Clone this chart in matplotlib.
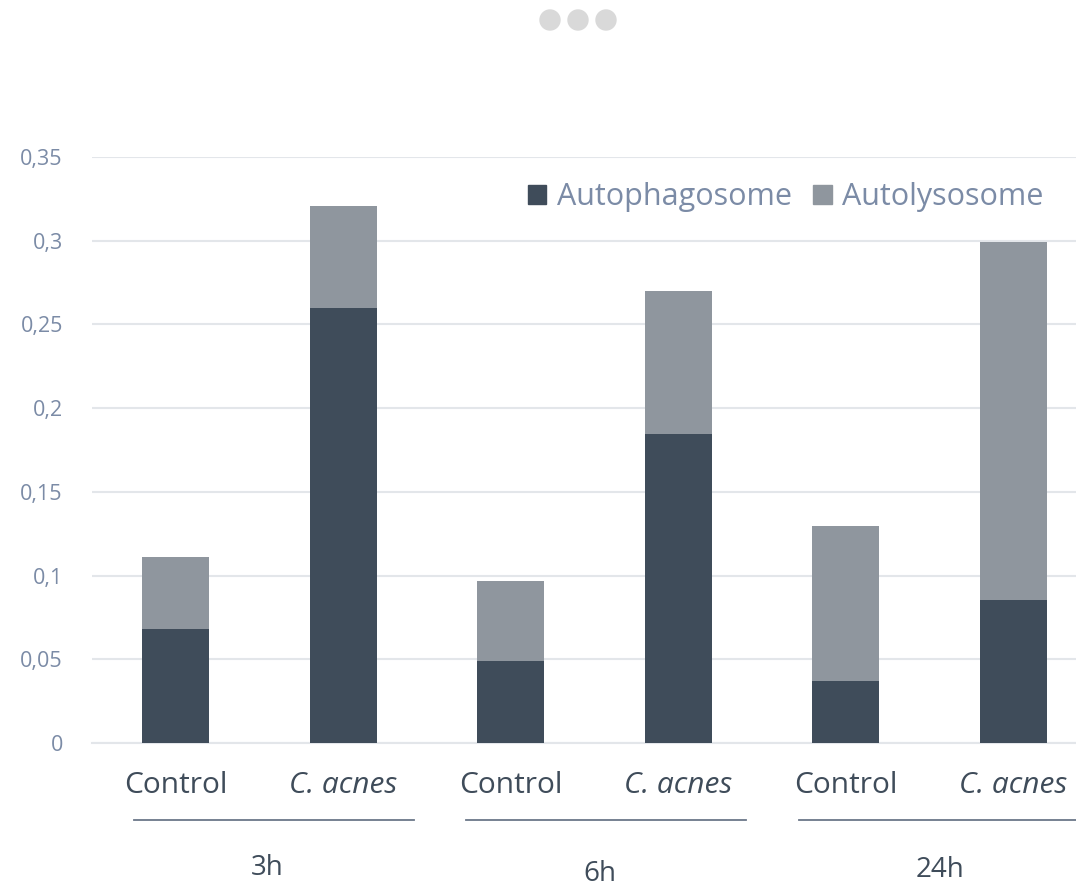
import matplotlib
matplotlib.use("Agg")
import matplotlib.pyplot as plt
from matplotlib.patches import Circle, Rectangle
from matplotlib.lines import Line2D
import matplotlib.transforms as mtransforms

plt.rcParams['font.family'] = ['Open Sans', 'DejaVu Sans']

# Data
categories = ["Control", "C. acnes", "Control", "C. acnes", "Control", "C. acnes"]
groups = ["3h", "6h", "24h"]
autophagosome = [0.068, 0.260, 0.049, 0.1845, 0.037, 0.0855]
autolysosome = [0.043, 0.061, 0.0475, 0.0855, 0.0925, 0.2135]
yticks = [0, 0.05, 0.1, 0.15, 0.2, 0.25, 0.3, 0.35]
ytick_labels = ["0", "0,05", "0,1", "0,15", "0,2", "0,25", "0,3", "0,35"]

DARK = "#3f4c5a"
GREY = "#8f969e"
TICK = "#7b8ba6"
GRID = "#e3e6ea"

W, H = 1076, 886
fig = plt.figure(figsize=(W / 100, H / 100), dpi=100)
ax = fig.add_axes([92 / W, (H - 743) / H, 1005 / W, 586 / H])

x = list(range(len(categories)))
ax.bar(x, autophagosome, width=0.4, color=DARK, zorder=3)
ax.bar(x, autolysosome, width=0.4, bottom=autophagosome, color=GREY, zorder=3)

ax.set_xlim(-0.5, 5.5)
ax.set_ylim(0, 0.35)
ax.set_yticks(yticks)
ax.set_yticklabels(ytick_labels)
ax.tick_params(axis='y', length=0, pad=21, labelsize=15.5, labelcolor=TICK)
ax.yaxis.grid(True, color=GRID, linewidth=1.5, zorder=0)
for s in ["top", "right", "left"]:
    ax.spines[s].set_visible(False)
ax.spines["bottom"].set_color(GRID)
ax.spines["bottom"].set_linewidth(1.5)

ax.set_xticks(x)
ax.set_xticklabels(categories)
ax.tick_params(axis='x', length=0, pad=20, labelsize=21.5, labelcolor=DARK)
# Species name in italics
for lbl in ax.get_xticklabels():
    if lbl.get_text() != "Control":
        lbl.set_fontstyle("italic")

# Group separators and labels below the category ticks
trans = mtransforms.blended_transform_factory(ax.transData, fig.transFigure)
line_spans = [(-0.25, 1.42), (1.735, 3.405), (3.72, 5.4)]
for x0, x1 in line_spans:
    fig.add_artist(Line2D([x0, x1], [(H - 820) / H] * 2, transform=trans,
                          color="#6b7789", linewidth=1.3))
group_x = [0.548, 2.53, 4.565]
group_y = [868, 874, 870]
for gx, gy, g in zip(group_x, group_y, groups):
    fig.text(gx, (H - gy) / H, g, transform=trans, ha="center", va="center",
             fontsize=20, color=DARK)

# Legend
handles = [Rectangle((0, 0), 1, 1, color=DARK), Rectangle((0, 0), 1, 1, color=GREY)]
leg = fig.legend(handles, ["Autophagosome", "Autolysosome"], loc="center left",
                 bbox_to_anchor=(528 / W, (H - 197) / H), ncol=2, frameon=False,
                 fontsize=22, handlelength=0.6, handleheight=0.6, handletextpad=0.35,
                 columnspacing=0.7, borderaxespad=0, borderpad=0)
for t in leg.get_texts():
    t.set_color(TICK)

# Menu dots (sized in pixels so they stay round)
for cx in (550, 578, 606):
    fig.add_artist(Circle((cx, H - 20), 10, transform=mtransforms.IdentityTransform(),
                          color="#d9d9d9"))

fig.savefig("out.png", dpi=100, facecolor="white")
